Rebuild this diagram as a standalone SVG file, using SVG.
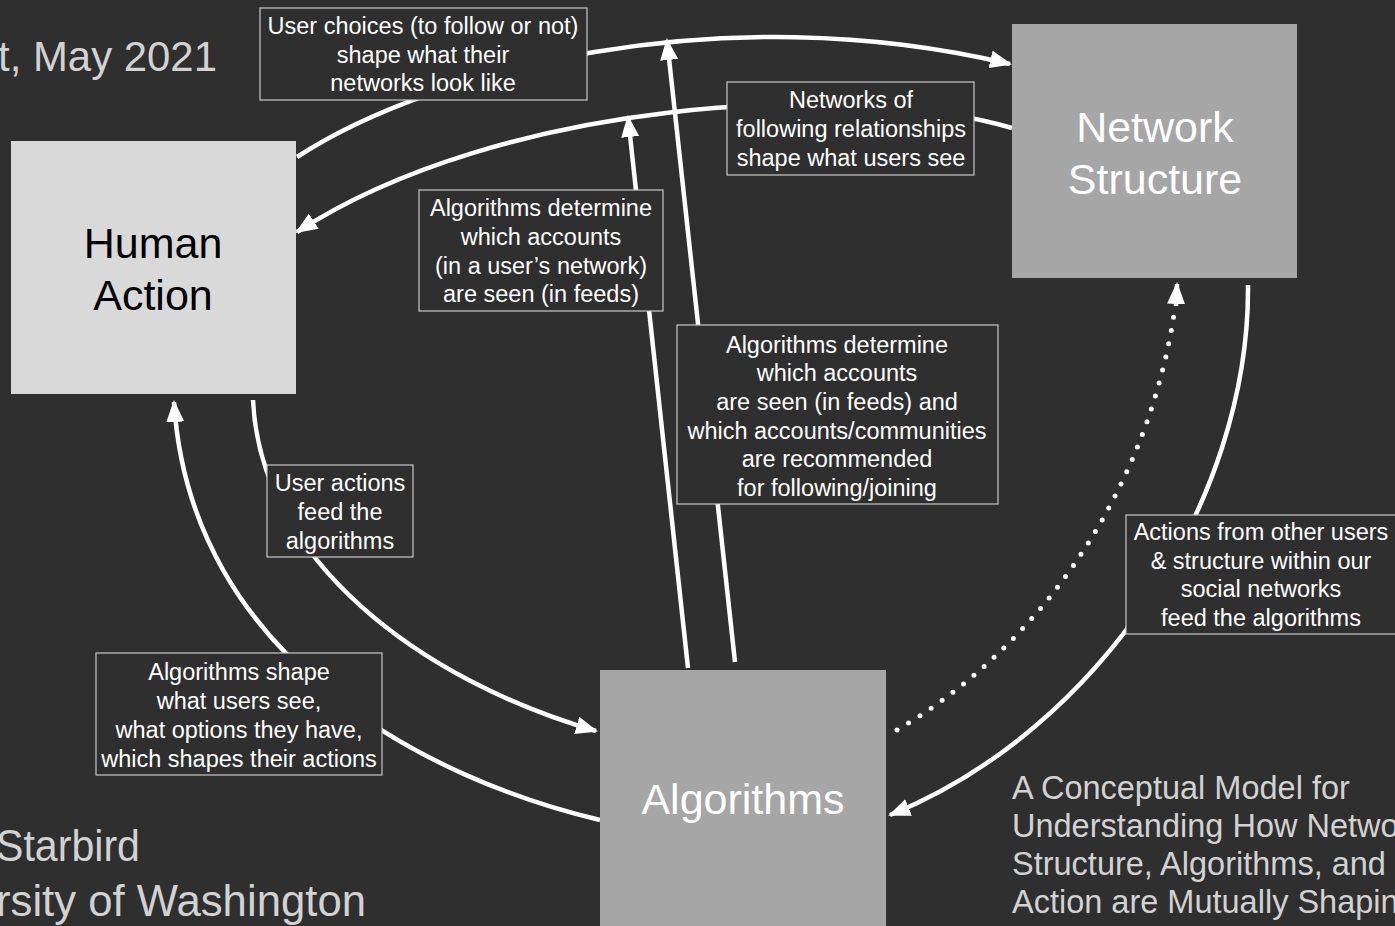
<svg xmlns="http://www.w3.org/2000/svg" width="1395" height="926" viewBox="0 0 1395 926">
<style>
.bg{fill:#2f2f2f}
.conn{fill:none;stroke:#ffffff;stroke-width:4.5}
.dot{fill:none;stroke:#ffffff;stroke-width:5;stroke-linecap:round;stroke-dasharray:0 13.5}
.lbl rect{fill:#2f2f2f;stroke:#c8c8c8;stroke-width:1.2}
.lbl text{fill:#ffffff;font-family:"Liberation Sans",Arial,sans-serif;font-size:23.5px;text-anchor:middle}
.big{font-family:"Liberation Sans",Arial,sans-serif;font-size:43px;text-anchor:middle}
.side{fill:#d2d2d2;font-family:"Liberation Sans",Arial,sans-serif}
</style>
<defs>
<marker id="ah" markerUnits="userSpaceOnUse" markerWidth="22" markerHeight="18" refX="20" refY="9" orient="auto">
<path d="M0,0 L22,9 L0,18 z" fill="#ffffff"/>
</marker>
</defs>
<rect class="bg" x="0" y="0" width="1395" height="926"/>

<g id="background-text">
<text class="side" x="-2" y="71" font-size="42" textLength="219" lengthAdjust="spacingAndGlyphs">t, May 2021</text>
<text class="side" x="-4" y="861" font-size="44" textLength="144" lengthAdjust="spacingAndGlyphs">Starbird</text>
<text class="side" x="-4" y="916" font-size="44" textLength="370" lengthAdjust="spacingAndGlyphs">rsity of Washington</text>
<text class="side" x="1012" y="799" font-size="32.5">A Conceptual Model for</text>
<text class="side" x="1012" y="837" font-size="32.5">Understanding How Netwo</text>
<text class="side" x="1012" y="875" font-size="32.5">Structure, Algorithms, and</text>
<text class="side" x="1012" y="913" font-size="32.5">Action are Mutually Shapin</text>
</g>

<g id="connectors">
<path class="conn" d="M297,157 C430,70 720,-5 1010,64" marker-end="url(#ah)"/>
<path class="conn" d="M1012,128 C850,80 500,100 297,232" marker-end="url(#ah)"/>
<path class="conn" d="M688,668 L628,117" marker-end="url(#ah)"/>
<path class="conn" d="M735,662 L667,40" marker-end="url(#ah)"/>
<path class="conn" d="M253,400 C260,560 420,680 596,731" marker-end="url(#ah)"/>
<path class="conn" d="M600,820 C430,780 190,660 174,402" marker-end="url(#ah)"/>
<path class="dot" d="M897,730 C1050,640 1150,480 1175,308"/>
<path class="conn" d="M1176,306 L1177,284" marker-end="url(#ah)" stroke-width="0.1"/>
<path class="conn" d="M1248,285 C1250,500 1100,730 890,815" marker-end="url(#ah)"/>
</g>

<g id="node-human-action">
<rect x="11" y="141" width="285" height="253" fill="#d9d9d9"/>
<text class="big" x="153" y="258" fill="#000000">Human</text>
<text class="big" x="153" y="310" fill="#000000">Action</text>
</g>
<g id="node-network-structure">
<rect x="1012" y="24" width="285" height="254" fill="#a6a6a6"/>
<text class="big" x="1155" y="142" fill="#ffffff">Network</text>
<text class="big" x="1155" y="194" fill="#ffffff">Structure</text>
</g>
<g id="node-algorithms">
<rect x="600" y="670" width="286" height="260" fill="#a6a6a6"/>
<text class="big" x="743" y="814" fill="#ffffff">Algorithms</text>
</g>

<g id="label-user-choices" class="lbl">
<rect x="260" y="8" width="327" height="92"/>
<text x="423" y="34">User choices (to follow or not)</text>
<text x="423" y="63">shape what their</text>
<text x="423" y="91">networks look like</text>
</g>
<g id="label-networks-of-following" class="lbl">
<rect x="727" y="82" width="247" height="93"/>
<text x="851" y="108">Networks of</text>
<text x="851" y="137">following relationships</text>
<text x="851" y="166">shape what users see</text>
</g>
<g id="label-algorithms-determine-1" class="lbl">
<rect x="419" y="190" width="244" height="121"/>
<text x="541" y="216">Algorithms determine</text>
<text x="541" y="245">which accounts</text>
<text x="541" y="274">(in a user’s network)</text>
<text x="541" y="302">are seen (in feeds)</text>
</g>
<g id="label-algorithms-determine-2" class="lbl">
<rect x="677" y="325" width="321" height="179"/>
<text x="837" y="353">Algorithms determine</text>
<text x="837" y="381">which accounts</text>
<text x="837" y="410">are seen (in feeds) and</text>
<text x="837" y="439">which accounts/communities</text>
<text x="837" y="467">are recommended</text>
<text x="837" y="496">for following/joining</text>
</g>
<g id="label-user-actions" class="lbl">
<rect x="267" y="465" width="146" height="92"/>
<text x="340" y="491">User actions</text>
<text x="340" y="520">feed the</text>
<text x="340" y="549">algorithms</text>
</g>
<g id="label-algorithms-shape" class="lbl">
<rect x="96" y="653" width="286" height="122"/>
<text x="239" y="680">Algorithms shape</text>
<text x="239" y="709">what users see,</text>
<text x="239" y="738">what options they have,</text>
<text x="239" y="767">which shapes their actions</text>
</g>
<g id="label-actions-from-others" class="lbl">
<rect x="1126" y="515" width="290" height="119"/>
<text x="1261" y="540">Actions from other users</text>
<text x="1261" y="569">&amp; structure within our</text>
<text x="1261" y="597">social networks</text>
<text x="1261" y="626">feed the algorithms</text>
</g>
</svg>
